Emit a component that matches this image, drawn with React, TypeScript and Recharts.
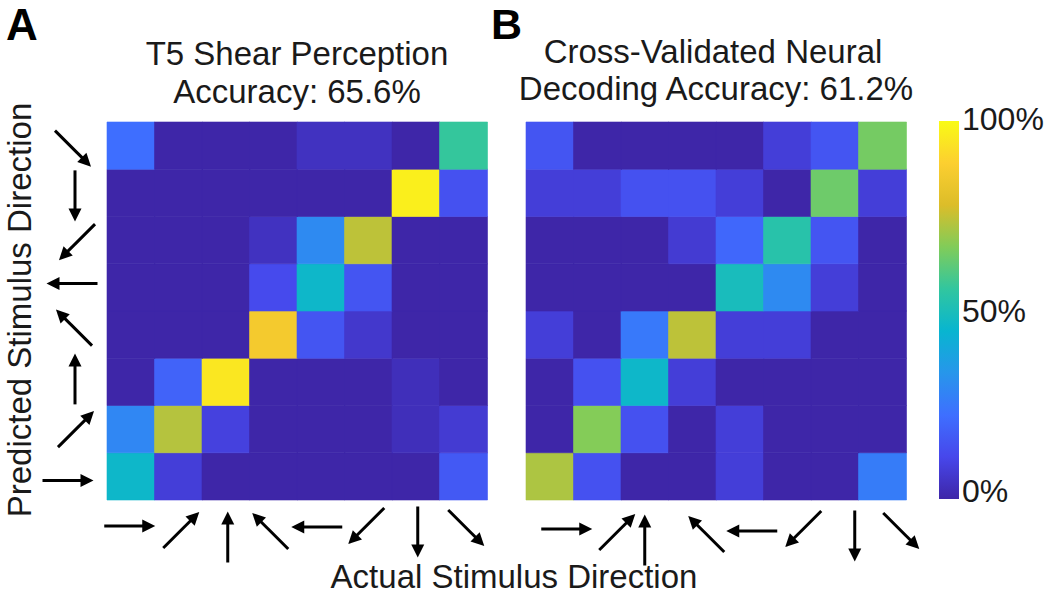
import { BarChart, Bar, Cell, XAxis, YAxis } from "recharts";

// stimulus directions, in the order of the "actual" axis (left to right)
const directionNames = ["right", "up-right", "up", "up-left", "left", "down-left", "down", "down-right"];
const directionAngles = [0, 45, 90, 135, 180, 225, 270, 315];

// confusion matrices (fraction of trials)
// rows = predicted direction, top to bottom: ↘ ↓ ↙ ← ↖ ↑ ↗ →
// cols = actual direction, left to right:   → ↗ ↑ ↖ ← ↙ ↓ ↘
const t5Rows = [
  [0.22, 0, 0, 0, 0.04, 0.04, 0, 0.56],
  [0, 0, 0, 0, 0, 0, 0.97, 0.14],
  [0, 0, 0, 0.04, 0.3, 0.74, 0, 0],
  [0, 0, 0, 0.12, 0.46, 0.15, 0, 0],
  [0, 0, 0, 0.86, 0.15, 0.06, 0, 0],
  [0, 0.19, 0.95, 0, 0, 0, 0.03, 0],
  [0.29, 0.73, 0.09, 0, 0, 0, 0.03, 0.07],
  [0.46, 0.08, 0, 0, 0, 0, 0, 0.16],
];

const neuralRows = [
  [0.15, 0, 0, 0, 0, 0.08, 0.15, 0.65],
  [0.08, 0.08, 0.14, 0.14, 0.08, 0, 0.64, 0.08],
  [0, 0, 0, 0.07, 0.2, 0.53, 0.15, 0],
  [0, 0, 0, 0, 0.49, 0.3, 0.08, 0],
  [0.08, 0, 0.25, 0.74, 0.08, 0.08, 0, 0],
  [0, 0.14, 0.46, 0.08, 0, 0, 0, 0],
  [0, 0.67, 0.14, 0, 0.08, 0, 0, 0],
  [0.72, 0.14, 0, 0, 0.08, 0, 0, 0.26],
];

const t5Title = ["T5 Shear Perception", "Accuracy: 65.6%"];
const neuralTitle = ["Cross-Validated Neural", "Decoding Accuracy: 61.2%"];
const colorbarTicks = [0, 50, 100];

// parula, sampled at 10 even steps
const parulaStops = [
  [62, 38, 168],
  [71, 71, 235],
  [62, 111, 255],
  [39, 150, 235],
  [8, 181, 208],
  [49, 198, 159],
  [129, 204, 89],
  [220, 189, 41],
  [252, 207, 48],
  [249, 251, 21],
];

const FONT = "'Liberation Sans', Arial, Helvetica, sans-serif";

function parula(v: number) {
  const t = Math.max(0, Math.min(1, v)) * (parulaStops.length - 1);
  const i = Math.min(Math.floor(t), parulaStops.length - 2);
  const f = t - i;
  const a = parulaStops[i];
  const b = parulaStops[i + 1];
  const c = a.map((x, k) => Math.round(x + (b[k] - x) * f));
  return `rgb(${c[0]},${c[1]},${c[2]})`;
}

function Arrow({ cx, cy, angle }: { cx: number; cy: number; angle: number }) {
  const len = 51;
  const head = 13;
  const half = 6.5;
  const r = (angle * Math.PI) / 180;
  const ux = Math.cos(r);
  const uy = -Math.sin(r);
  const tx = cx - (ux * len) / 2;
  const ty = cy - (uy * len) / 2;
  const hx = cx + (ux * len) / 2;
  const hy = cy + (uy * len) / 2;
  const bx = hx - ux * head;
  const by = hy - uy * head;
  const px = -uy;
  const py = ux;
  return (
    <g>
      <line x1={tx} y1={ty} x2={bx + ux} y2={by + uy} stroke="#000" strokeWidth={3} />
      <polygon
        points={`${hx},${hy} ${bx + px * half},${by + py * half} ${bx - px * half},${by - py * half}`}
        fill="#000"
      />
    </g>
  );
}

// small hand placement of the arrow glyphs under each column / beside each row
const t5TickDx = [-1, 3, 2, -3, -4, -2, 2, 3];
const t5TickDy = [26, 30, 37, 31, 27, 26, 32, 28];
const neuralTickDx = [17, 20, 0, 14, 12, 16, 20, 19];
const neuralTickDy = [29, 32, 40, 34, 31, 29, 36, 31];
const rowTickDx = [-39, -31, -32, -33, -35, -30, -32, -34];
const rowTickDy = [4, 0, -3, -7, -4, 2, 3, 3];

const makeXTick = (dx: number[], dy: number[]) => (props: any) => {
  const { x, y, payload } = props;
  const i = directionNames.indexOf(payload.value);
  if (i < 0) return <g />;
  return <Arrow cx={x + dx[i]} cy={y + dy[i]} angle={directionAngles[i]} />;
};

const RowTick = (props: any) => {
  const { x, y, payload } = props;
  const i = Math.floor(payload.value);
  return <Arrow cx={x + rowTickDx[i]} cy={y + rowTickDy[i]} angle={directionAngles[i]} />;
};

function Heatmap({
  rows,
  left,
  width,
  marginLeft,
  marginRight,
  showRows,
  tickDx,
  tickDy,
}: {
  rows: number[][];
  left: number;
  width: number;
  marginLeft: number;
  marginRight: number;
  showRows: boolean;
  tickDx: number[];
  tickDy: number[];
}) {
  const data = directionNames.map((name) => {
    const d: Record<string, any> = { actual: name };
    directionNames.forEach((_, k) => (d[`p${k}`] = 1));
    return d;
  });
  const n = directionNames.length;

  return (
    <div style={{ position: "absolute", left, top: 0 }}>
      <BarChart
        width={width}
        height={598}
        data={data}
        barCategoryGap={0}
        barGap={0}
        margin={{ top: 122, bottom: 38, left: marginLeft, right: marginRight }}
      >
        <XAxis
          dataKey="actual"
          height={60}
          axisLine={false}
          tickLine={false}
          tickSize={0}
          tickMargin={0}
          interval={0}
          tick={makeXTick(tickDx, tickDy)}
        />
        <YAxis
          type="number"
          domain={[0, n]}
          ticks={directionNames.map((_, i) => i + 0.5)}
          width={60}
          hide={!showRows}
          axisLine={false}
          tickLine={false}
          tickSize={0}
          tickMargin={0}
          interval={0}
          tick={RowTick}
        />
        {directionNames.map((_, k) => (
          <Bar key={k} dataKey={`p${k}`} stackId="m" isAnimationActive={false}>
            {data.map((_, c) => {
              const col = parula(rows[n - 1 - k][c]);
              return <Cell key={c} fill={col} stroke={col} strokeWidth={0.6} />;
            })}
          </Bar>
        ))}
      </BarChart>
    </div>
  );
}

const ColorbarTick = (props: any) => {
  const { x, y, payload } = props;
  const shift = payload.value === 0 ? -9 : payload.value === 100 ? -3 : 0;
  return (
    <text x={x} y={y + shift} dy="0.36em" fontSize={32} fontFamily={FONT} fill="#1a1a1a" textAnchor="start">
      {payload.value}%
    </text>
  );
};

function Colorbar() {
  return (
    <div style={{ position: "absolute", left: 920, top: 0 }}>
      <BarChart
        width={130}
        height={598}
        data={[{ name: "cb", full: 100 }]}
        barCategoryGap={0}
        margin={{ top: 121, bottom: 99, left: 19, right: 0 }}
      >
        <defs>
          <linearGradient id="parulaGrad" x1="0" y1="1" x2="0" y2="0">
            {parulaStops.map((c, i) => (
              <stop key={i} offset={i / (parulaStops.length - 1)} stopColor={`rgb(${c[0]},${c[1]},${c[2]})`} />
            ))}
          </linearGradient>
        </defs>
        <XAxis dataKey="name" hide />
        <YAxis
          orientation="right"
          type="number"
          domain={[0, 100]}
          ticks={colorbarTicks}
          width={91}
          axisLine={false}
          tickLine={false}
          tickSize={0}
          tickMargin={3}
          tick={ColorbarTick}
        />
        <Bar dataKey="full" fill="url(#parulaGrad)" isAnimationActive={false} />
      </BarChart>
    </div>
  );
}

export default function App() {
  const textStyle = { fontFamily: FONT, fill: "#1a1a1a" };
  return (
    <div style={{ position: "absolute", left: 0, top: 0, width: 1050, height: 598, background: "#fff", overflow: "hidden" }}>
      <Heatmap
        rows={t5Rows}
        left={0}
        width={500}
        marginLeft={47}
        marginRight={13}
        showRows
        tickDx={t5TickDx}
        tickDy={t5TickDy}
      />
      <Heatmap
        rows={neuralRows}
        left={500}
        width={430}
        marginLeft={26}
        marginRight={24}
        showRows={false}
        tickDx={neuralTickDx}
        tickDy={neuralTickDy}
      />
      <Colorbar />
      <svg width={1050} height={598} style={{ position: "absolute", left: 0, top: 0, pointerEvents: "none" }}>
        <text x={6} y={40} fontSize={44} fontWeight="bold" fontFamily={FONT} fill="#000">A</text>
        <text x={491} y={39} fontSize={43} fontWeight="bold" fontFamily={FONT} fill="#000">B</text>
        <text x={297} y={65} fontSize={33} textAnchor="middle" {...textStyle}>{t5Title[0]}</text>
        <text x={297} y={103} fontSize={33} textAnchor="middle" {...textStyle}>{t5Title[1]}</text>
        <text x={713} y={63} fontSize={33} textAnchor="middle" {...textStyle}>{neuralTitle[0]}</text>
        <text x={716} y={100} fontSize={33} textAnchor="middle" {...textStyle}>{neuralTitle[1]}</text>
        <text x={31} y={310} fontSize={33} textAnchor="middle" transform="rotate(-90 31 310)" {...textStyle}>
          Predicted Stimulus Direction
        </text>
        <text x={514} y={588} fontSize={33} textAnchor="middle" {...textStyle}>
          Actual Stimulus Direction
        </text>
      </svg>
    </div>
  );
}
